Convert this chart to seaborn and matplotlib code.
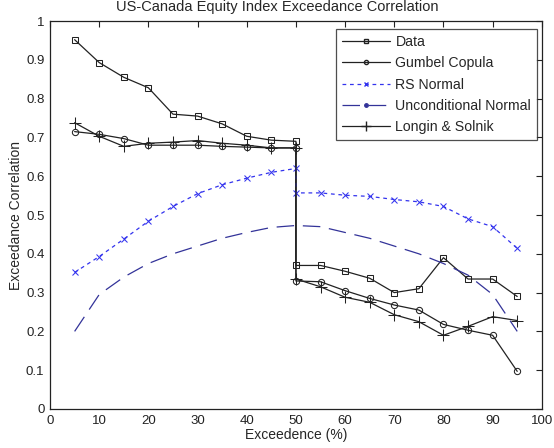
import numpy as np
import pandas as pd
import matplotlib
matplotlib.use('Agg')
import matplotlib.pyplot as plt
import seaborn as sns
from matplotlib.lines import Line2D

# exceedance levels (50 appears twice: lower tail end / upper tail start)
x_tail = [5, 10, 15, 20, 25, 30, 35, 40, 45, 50, 50, 55, 60, 65, 70, 75, 80, 85, 90, 95]
x_unc = [5, 10, 15, 20, 25, 30, 35, 40, 45, 50, 55, 60, 65, 70, 75, 80, 85, 90, 95]

data_corr = [0.952, 0.893, 0.855, 0.828, 0.760, 0.755, 0.735, 0.703, 0.693, 0.690,
             0.370, 0.370, 0.355, 0.337, 0.300, 0.310, 0.390, 0.335, 0.335, 0.290]
gumbel = [0.715, 0.708, 0.697, 0.680, 0.680, 0.680, 0.677, 0.675, 0.673, 0.673,
          0.330, 0.328, 0.305, 0.285, 0.268, 0.255, 0.218, 0.203, 0.190, 0.097]
rs_normal = [0.352, 0.393, 0.438, 0.484, 0.522, 0.555, 0.578, 0.595, 0.610, 0.620,
             0.557, 0.557, 0.551, 0.548, 0.540, 0.534, 0.522, 0.490, 0.470, 0.414]
unc_normal = [0.200, 0.295, 0.340, 0.375, 0.400, 0.420, 0.440, 0.455, 0.468, 0.473,
              0.470, 0.455, 0.440, 0.420, 0.400, 0.375, 0.345, 0.295, 0.200]
longin = [0.738, 0.703, 0.677, 0.685, 0.688, 0.692, 0.685, 0.680, 0.673, 0.673,
          0.335, 0.315, 0.288, 0.275, 0.243, 0.225, 0.190, 0.213, 0.238, 0.228]

sns.set_style('white')
plt.rcParams['font.family'] = ['Liberation Sans', 'DejaVu Sans']
plt.rcParams['xtick.direction'] = 'in'
plt.rcParams['ytick.direction'] = 'in'

fig = plt.figure(figsize=(5.54, 4.48), dpi=100)
ax = fig.add_axes([0.0903, 0.0871, 0.8877, 0.8659])

blk = '#222222'
common = dict(estimator=None, sort=False, ax=ax, legend=False)
sns.lineplot(x=x_tail, y=data_corr, color=blk, lw=0.9, marker='s', markersize=5,
             markerfacecolor='none', markeredgecolor=blk, **common)
sns.lineplot(x=x_tail, y=gumbel, color=blk, lw=0.9, marker='o', markersize=4.5,
             markerfacecolor='none', markeredgecolor=blk, **common)
sns.lineplot(x=x_tail, y=rs_normal, color='#3333ee', lw=0.9, marker='x', markersize=4,
             markeredgecolor='#3333ee', **common)
ax.lines[-1].set_dashes([3, 3])
sns.lineplot(x=x_unc, y=unc_normal, color='#333399', lw=0.9, **common)
ax.lines[-1].set_dashes([14, 7])
sns.lineplot(x=x_tail, y=longin, color=blk, lw=0.9, marker='+', markersize=9,
             markeredgecolor=blk, **common)

ax.set_xlim(0, 100)
ax.set_ylim(0, 1)
ax.set_xticks(np.arange(0, 101, 10))
ax.set_yticks(np.arange(0, 1.01, 0.1))
ax.set_yticklabels(['0'] + ['%.1f' % v for v in np.arange(0.1, 1.0, 0.1)] + ['1'])
ax.tick_params(labelsize=9.5, top=True, right=True, length=4, width=0.8, colors=blk, pad=4)
for s in ax.spines.values():
    s.set_color(blk)
    s.set_linewidth(0.9)

ax.set_xlabel('Exceedence (%)', fontsize=10, labelpad=1)
ax.set_ylabel('Exceedance Correlation', fontsize=10, labelpad=2)
fig.text(0.5, 0.999, 'US-Canada Equity Index Exceedance Correlation', ha='center',
         va='top', fontsize=10.5)

handles = [
    Line2D([], [], color=blk, lw=0.9, marker='s', markersize=3, markerfacecolor='none'),
    Line2D([], [], color=blk, lw=0.9, marker='o', markersize=3, markerfacecolor='none'),
    Line2D([], [], color='#3333ee', lw=0.9, ls=(0, (3, 3)), marker='x', markersize=3),
    Line2D([], [], color='#333399', lw=0.9, ls=(0, (14, 7)), marker='.', markersize=5),
    Line2D([], [], color=blk, lw=0.9, marker='+', markersize=7),
]
labels = ['Data', 'Gumbel Copula', 'RS Normal', 'Unconditional Normal', 'Longin & Solnik']
leg = ax.legend(handles, labels, loc='upper right', bbox_to_anchor=(0.99, 0.979),
                borderaxespad=0, fontsize=10.2, frameon=True, fancybox=False,
                edgecolor=blk, handlelength=3.4, borderpad=0.4, labelspacing=0.52,
                handletextpad=0.4)
leg.get_frame().set_linewidth(0.9)

fig.savefig('out.png', dpi=100)
